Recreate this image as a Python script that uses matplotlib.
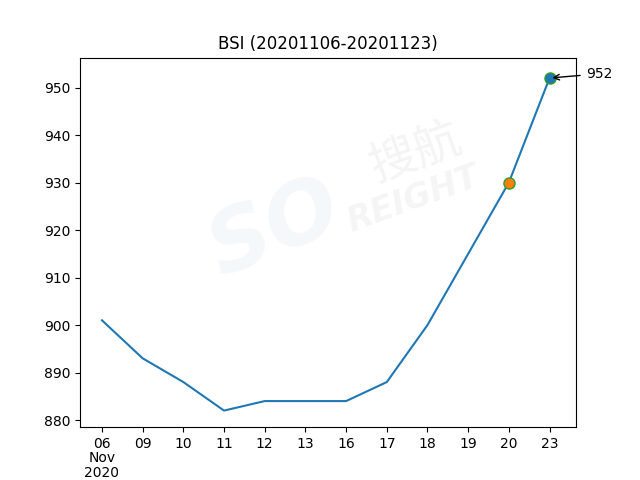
import matplotlib
matplotlib.use("Agg")
import matplotlib.pyplot as plt

dates = ["06", "09", "10", "11", "12", "13", "16", "17", "18", "19", "20", "23"]
tick_labels = ["06\nNov\n2020"] + dates[1:]
values = [901, 893, 888, 882, 884, 884, 884, 888, 900, 915, 930, 952]
title = "BSI (20201106-20201123)"

fig, ax = plt.subplots(figsize=(6.4, 4.8), dpi=100)

# faint watermark
fig.text(0.43, 0.52, "SO", fontsize=62, fontweight="bold", fontstyle="italic",
         color="#dde8f2", alpha=0.3, rotation=22, ha="center", va="center")
fig.text(0.65, 0.68, "搜航", fontsize=34, family=["Noto Sans CJK SC", "DejaVu Sans"],
         color="#d0d0d0", alpha=0.22, rotation=20, ha="center", va="center")
fig.text(0.645, 0.585, "REIGHT", fontsize=24, fontweight="bold", fontstyle="italic",
         color="#d0d0d0", alpha=0.2, rotation=20, ha="center", va="center")

x = list(range(len(dates)))
ax.plot(x, values, color="#1f77b4", zorder=2)
ax.plot(x[-2], values[-2], "o", markersize=8, markerfacecolor="#ff7f0e",
        markeredgecolor="#2ca02c", zorder=3)
ax.plot(x[-1], values[-1], "o", markersize=8, markerfacecolor="#1f77b4",
        markeredgecolor="#2ca02c", zorder=3)
ax.annotate(str(values[-1]), xy=(x[-1], values[-1]), xytext=(26, 3),
            textcoords="offset points", ha="left", va="center",
            arrowprops=dict(arrowstyle="->", color="black"))

ax.set_xticks(x)
ax.set_xticklabels(tick_labels, linespacing=1.05)
ax.set_xlim(-0.54, 11.65)
ax.set_ylim(878.5, 956.3)
ax.set_title(title)

fig.savefig("out.png", dpi=100)
